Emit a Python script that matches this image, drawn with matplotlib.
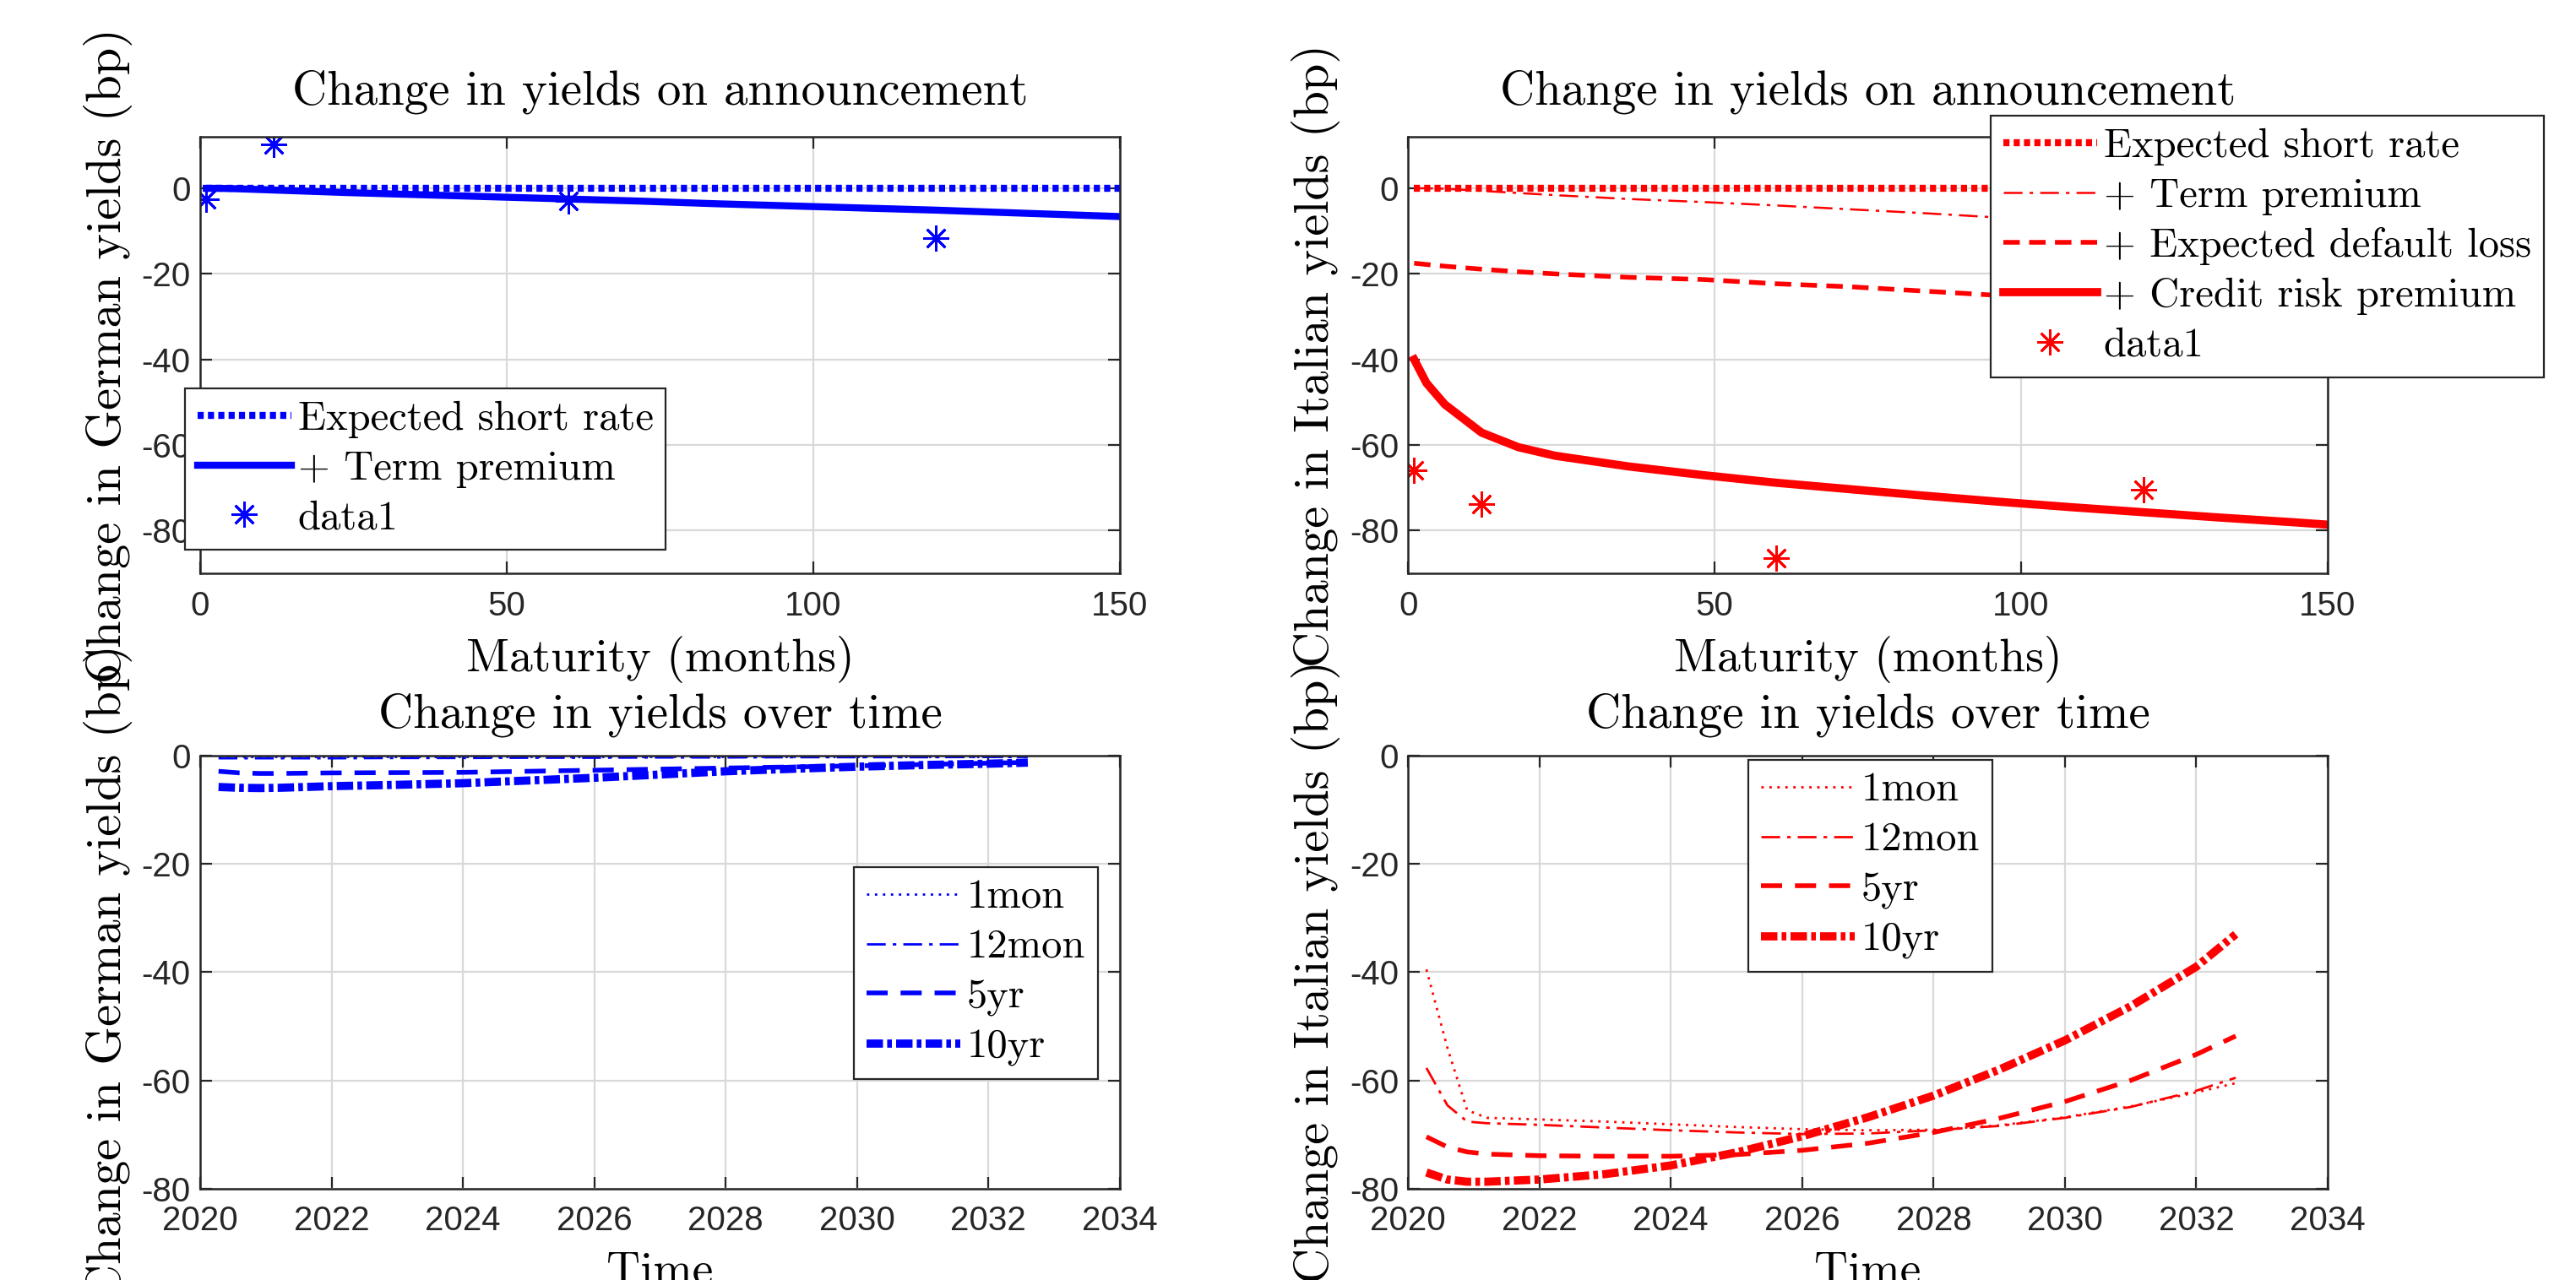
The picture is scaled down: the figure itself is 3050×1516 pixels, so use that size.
import numpy as np
import matplotlib
matplotlib.use("Agg")
import matplotlib.pyplot as plt
from matplotlib.ticker import MultipleLocator

plt.rcParams.update({
    'font.family': 'cmr10',
    'axes.unicode_minus': False,
    'axes.formatter.use_mathtext': False,
    'mathtext.fontset': 'cm',
    'lines.scale_dashes': False,   # MATLAB-like dash lengths, independent of width
})

TICKFONT = 'Liberation Sans'

# ---------------------------------------------------------------- data
# announcement effect, by maturity (months)
mat = [1, 3, 6, 12, 18, 24, 36, 48, 60, 72, 84, 96, 108, 120, 132, 144, 150]
de_short = [0, 0, 0, 0, 0, 0, 0, 0, 0, 0, 0, 0, 0, 0, 0, 0, 0]
de_term = [0, 0, -0.1, -0.4, -0.7, -1.0, -1.5, -2.0, -2.5, -3.0, -3.6, -4.1, -4.6, -5.1, -5.7, -6.3, -6.6]
de_obs_mat = [1, 12, 60, 120]
de_obs = [-2.6, 10.3, -3.0, -11.7]

it_short = [0, 0, 0, 0, 0, 0, 0, 0, 0, 0, 0, 0, 0, 0, 0, 0, 0]
it_term = [0, 0, -0.1, -0.6, -1.1, -1.6, -2.5, -3.2, -4.0, -4.9, -5.8, -6.8, -7.9, -8.9, -10.0, -11.1, -11.7]
it_edl = [-17.5, -17.8, -18.2, -18.9, -19.5, -20.0, -20.8, -21.3, -22.3, -23.0, -24.0, -25.0, -26.0, -26.8, -27.6, -28.4, -28.8]
it_crp = [-40.0, -45.5, -50.5, -57.1, -60.5, -62.5, -65.0, -67.0, -68.8, -70.3, -71.8, -73.2, -74.5, -75.7, -76.9, -78.0, -78.6]
it_obs_mat = [1, 12, 60, 120]
it_obs = [-65.9, -73.8, -86.4, -70.5]

# change over time
t = [2020.28, 2020.6, 2020.9, 2021.2, 2022, 2023, 2024, 2025, 2026, 2027, 2028,
     2029, 2030, 2031, 2032, 2032.6]
de_1m = [-0.1, -0.1, -0.1, -0.1, -0.1, -0.1, -0.1, -0.1, -0.1, -0.1, -0.1,
         -0.1, -0.1, -0.1, -0.1, -0.1]
de_12m = [-0.5, -0.5, -0.5, -0.5, -0.5, -0.45, -0.45, -0.4, -0.4, -0.35, -0.35,
          -0.3, -0.3, -0.3, -0.25, -0.25]
de_5y = [-2.9, -3.2, -3.3, -3.3, -3.2, -3.15, -3.1, -2.9, -2.7, -2.5, -2.3,
         -2.1, -1.9, -1.65, -1.4, -1.25]
de_10y = [-5.8, -5.95, -6.0, -5.95, -5.65, -5.4, -5.1, -4.6, -4.1, -3.5, -2.9,
          -2.45, -2.05, -1.75, -1.5, -1.3]

it_1m = [-39.5, -54.0, -65.5, -66.9, -67.2, -67.6, -68.1, -68.6, -69.0, -69.2, -69.1,
         -68.3, -66.8, -64.8, -62.2, -60.5]
it_12m = [-57.7, -64.6, -67.6, -67.9, -68.2, -68.7, -69.2, -69.6, -69.9, -69.8, -69.2,
          -68.4, -66.9, -64.9, -61.9, -59.5]
it_5y = [-70.4, -72.3, -73.2, -73.6, -73.9, -74.0, -74.0, -73.7, -72.9, -71.6, -69.6,
         -67.0, -63.9, -60.0, -55.2, -51.8]
it_10y = [-77.0, -78.3, -78.7, -78.7, -78.3, -77.3, -75.7, -73.3, -70.3, -66.8, -62.8,
          -58.0, -52.6, -46.3, -39.0, -33.0]

# ---------------------------------------------------------------- figure
fig = plt.figure(figsize=(15.25, 7.58), dpi=200)

W, H = 0.357, 0.341
pos = {
    'tl': [0.0777, 0.552, W, H],
    'tr': [0.5466, 0.552, W, H],
    'bl': [0.0777, 0.0713, W, 0.3384],
    'br': [0.5466, 0.0713, W, 0.3384],
}

DOT_THICK = (0, (2.6, 1.8))
DOT_THIN = (0, (1.0, 2.4))
DASH = (0, (7, 4))
DASH_LONG = (0, (9, 5.5))
DASHDOT_THIN = (0, (8, 3, 1.5, 3))
DASHDOT_THICK = (0, (7, 1.8, 2.0, 1.8))
STAR = (8, 2, 0)


def style_axes(ax):
    ax.tick_params(which='both', direction='in', top=True, right=True,
                   length=5, width=0.8, colors='0.15', labelsize=14.5,
                   labelcolor='0.15', pad=4)
    ax.tick_params(axis='x', pad=7)
    for lbl in ax.get_xticklabels() + ax.get_yticklabels():
        lbl.set_fontfamily(TICKFONT)
    for s in ax.spines.values():
        s.set_color('0.15')
        s.set_linewidth(0.9)
    ax.grid(True, color='0.85', linewidth=0.8)
    ax.set_axisbelow(True)


def leg(ax, x, y, loc='upper left'):
    lg = ax.legend(fontsize=17.5, frameon=True, fancybox=False, edgecolor='0.15',
                   framealpha=1, borderpad=0.3, labelspacing=0.3,
                   handlelength=2.3, handletextpad=0.15, borderaxespad=0,
                   loc=loc, bbox_to_anchor=(x / 3050, 1 - y / 1516),
                   bbox_transform=fig.transFigure)
    lg.get_frame().set_linewidth(0.8)
    return lg


def labels(ax, title, xlabel, ylabel, tpad):
    ax.set_title(title, fontsize=20.5, pad=tpad)
    ax.set_xlabel(xlabel, fontsize=20, labelpad=6)
    ax.set_ylabel(ylabel, fontsize=21, labelpad=4)


# top-left: German yields on announcement
ax = fig.add_axes(pos['tl'])
ax.plot(mat, de_short, color='blue', linestyle=DOT_THICK, linewidth=3, label='Expected short rate')
ax.plot(mat, de_term, color='blue', linestyle='-', linewidth=3, label='+ Term premium')
ax.plot(de_obs_mat, de_obs, color='blue', linestyle='none', marker=STAR, markersize=11,
        markeredgewidth=1, label='data1')
ax.set_xlim(0, 150)
ax.set_ylim(-90, 12)
ax.xaxis.set_major_locator(MultipleLocator(50))
ax.set_yticks([-80, -60, -40, -20, 0])
style_axes(ax)
labels(ax, 'Change in yields on announcement', 'Maturity (months)',
       'Change in German yields (bp)', 14)
leg(ax, 219, 651, loc='lower left')

# top-right: Italian yields on announcement
ax = fig.add_axes(pos['tr'])
ax.plot(mat, it_short, color='red', linestyle=DOT_THICK, linewidth=3, label='Expected short rate')
ax.plot(mat, it_term, color='red', linestyle=DASHDOT_THIN, linewidth=0.9, label='+ Term premium')
ax.plot(mat, it_edl, color='red', linestyle=DASH, linewidth=2, label='+ Expected default loss')
ax.plot(mat, it_crp, color='red', linestyle='-', linewidth=3.5, label='+ Credit risk premium')
ax.plot(it_obs_mat, it_obs, color='red', linestyle='none', marker=STAR, markersize=11,
        markeredgewidth=1, label='data1')
ax.set_xlim(0, 150)
ax.set_ylim(-90, 12)
ax.xaxis.set_major_locator(MultipleLocator(50))
ax.set_yticks([-80, -60, -40, -20, 0])
style_axes(ax)
labels(ax, 'Change in yields on announcement', 'Maturity (months)',
       'Change in Italian yields (bp)', 14)
leg(ax, 2357, 137)

# bottom-left: German yields over time
ax = fig.add_axes(pos['bl'])
ax.plot(t, de_1m, color='blue', linestyle=DOT_THIN, linewidth=1, label='1mon')
ax.plot(t, de_12m, color='blue', linestyle=DASHDOT_THIN, linewidth=1, label='12mon')
ax.plot(t, de_5y, color='blue', linestyle=DASH_LONG, linewidth=2, label='5yr')
ax.plot(t, de_10y, color='blue', linestyle=DASHDOT_THICK, linewidth=3.5, label='10yr')
ax.set_xlim(2020, 2034)
ax.set_ylim(-80, 0)
ax.xaxis.set_major_locator(MultipleLocator(2))
ax.yaxis.set_major_locator(MultipleLocator(20))
style_axes(ax)
labels(ax, 'Change in yields over time', 'Time', 'Change in German yields (bp)', 12)
leg(ax, 1011, 1027)

# bottom-right: Italian yields over time
ax = fig.add_axes(pos['br'])
ax.plot(t, it_1m, color='red', linestyle=DOT_THIN, linewidth=1, label='1mon')
ax.plot(t, it_12m, color='red', linestyle=DASHDOT_THIN, linewidth=1, label='12mon')
ax.plot(t, it_5y, color='red', linestyle=DASH_LONG, linewidth=2, label='5yr')
ax.plot(t, it_10y, color='red', linestyle=DASHDOT_THICK, linewidth=3.5, label='10yr')
ax.set_xlim(2020, 2034)
ax.set_ylim(-80, 0)
ax.xaxis.set_major_locator(MultipleLocator(2))
ax.yaxis.set_major_locator(MultipleLocator(20))
style_axes(ax)
labels(ax, 'Change in yields over time', 'Time', 'Change in Italian yields (bp)', 12)
leg(ax, 2070, 900)

fig.savefig('out.png', dpi=200)
